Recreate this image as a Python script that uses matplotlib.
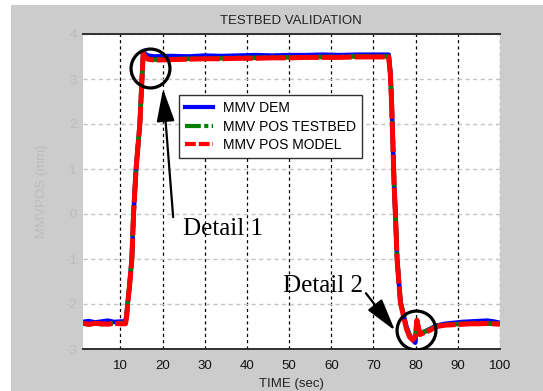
import numpy as np
import matplotlib
matplotlib.use('Agg')
import matplotlib.pyplot as plt
from matplotlib.patches import Rectangle
from matplotlib.lines import Line2D

plt.rcParams['font.family'] = ['Liberation Sans', 'DejaVu Sans']
plt.rcParams['axes.unicode_minus'] = False

# time base shared by the three signals
t_sec = [1, 2.5, 4, 5.5, 7, 8.5, 10,
         11.2, 11.5, 11.7, 12.1, 12.7, 13.1, 13.7, 14.6, 15.1, 15.4, 15.8, 16.5,
         18, 22, 26, 30, 34, 38, 42, 46, 50, 54, 58, 62, 66, 70,
         73.6, 74.0, 74.3, 74.6, 74.9, 75.2, 75.6, 76.4, 77.0, 77.8, 78.6, 79.3, 79.9, 80.3, 81.0,
         82, 83.5, 85, 87, 89, 91, 93, 95, 97, 98.5, 100]

mmv_dem = [-2.40, -2.38, -2.41, -2.39, -2.37, -2.40, -2.39,
           -2.39, -2.20, -2.00, -1.65, -1.00, 0.00, 1.00, 2.00, 3.00, 3.62, 3.56, 3.52,
           3.50, 3.51, 3.50, 3.52, 3.51, 3.52, 3.53, 3.52, 3.53, 3.53, 3.54, 3.53, 3.54, 3.54,
           3.54, 3.15, 2.50, 1.60, 0.60, 0.00, -1.00, -1.95, -2.20, -2.50, -2.70, -2.80, -2.86, -2.40, -2.66,
           -2.62, -2.55, -2.48, -2.44, -2.42, -2.40, -2.39, -2.38, -2.37, -2.39, -2.42]

mmv_pos_testbed = [-2.42, -2.46, -2.42, -2.45, -2.43, -2.44, -2.42,
                   -2.43, -2.22, -1.98, -1.62, -0.98, 0.02, 1.02, 2.02, 3.02, 3.57, 3.51, 3.45,
                   3.43, 3.44, 3.45, 3.45, 3.46, 3.47, 3.47, 3.48, 3.48, 3.48, 3.49, 3.49, 3.50, 3.50,
                   3.50, 3.12, 2.47, 1.58, 0.68, 0.00, -0.98, -1.96, -2.18, -2.52, -2.72, -2.78, -2.74, -2.40, -2.66,
                   -2.62, -2.56, -2.49, -2.46, -2.45, -2.44, -2.43, -2.42, -2.44, -2.43, -2.44]

mmv_pos_model = [-2.43, -2.45, -2.43, -2.44, -2.45, -2.43, -2.44,
                 -2.44, -2.25, -2.00, -1.65, -1.00, 0.00, 1.00, 2.00, 3.00, 3.56, 3.50, 3.44,
                 3.42, 3.43, 3.44, 3.45, 3.45, 3.46, 3.46, 3.47, 3.47, 3.48, 3.48, 3.48, 3.49, 3.49,
                 3.49, 3.10, 2.45, 1.55, 0.65, -0.02, -1.02, -1.98, -2.22, -2.55, -2.74, -2.80, -2.72, -2.36, -2.68,
                 -2.64, -2.58, -2.50, -2.47, -2.46, -2.45, -2.44, -2.44, -2.43, -2.44, -2.45]

series_names = ['MMV DEM', 'MMV POS TESTBED', 'MMV POS MODEL']
x_ticks = [10, 20, 30, 40, 50, 60, 70, 80, 90, 100]
y_ticks = [-3, -2, -1, 0, 1, 2, 3, 4]

fig = plt.figure(figsize=(5.43, 3.91), dpi=100, facecolor='white')
fig.add_artist(Rectangle((11/543, 0), 1, (391-5)/391, transform=fig.transFigure,
                         facecolor='#cccccc', edgecolor='none', zorder=-10))
ax = fig.add_axes([82.5/543, 42/391, 417.5/543, 315/391])
ax.set_facecolor('white')

ax.plot(t_sec, mmv_dem, color='#0000ff', lw=3.3)
ax.plot(t_sec, mmv_pos_testbed, color='#008000', lw=3.3, dashes=(5, 0.8, 1.0, 0.8))
ax.plot(t_sec, mmv_pos_model, color='#ff0000', lw=3.6, dashes=(6, 0.6))

ax.set_xlim(1, 100)
ax.set_ylim(-3, 4)
ax.set_xticks(x_ticks)
ax.set_yticks(y_ticks)
ax.set_axisbelow(True)
ax.grid(axis='x', color='black', linestyle=(0, (2.5, 2.5)), lw=0.9)
ax.grid(axis='y', color='#c4c4c4', linestyle=(0, (3, 2.5)), lw=1.0)
ax.tick_params(axis='x', length=0, pad=8, labelsize=9.5, labelcolor='#111111')
ax.tick_params(axis='y', length=0, pad=4, labelsize=9.5, labelcolor='#bcbcbc')
for side in ['left', 'right']:
    ax.spines[side].set_visible(False)
for side in ['top', 'bottom']:
    ax.spines[side].set_color('#303030')
    ax.spines[side].set_linewidth(1.4)

ax.set_title('TESTBED VALIDATION', fontsize=9.5, color='#222222', pad=7)
ax.set_xlabel('TIME (sec)', fontsize=9.5, color='#222222', labelpad=4)
ax.set_ylabel('MMVPOS (mm)', fontsize=9.5, color='#bcbcbc', labelpad=12)

# legend keys use the short dash patterns
handles = [Line2D([], [], color='#0000ff', lw=3),
           Line2D([], [], color='#008000', lw=3, dashes=(3.8, 0.8, 1.0, 0.8)),
           Line2D([], [], color='#ff0000', lw=3, dashes=(2.6, 0.7))]
leg = ax.legend(handles, series_names, loc='upper left', bbox_to_anchor=(0.231, 0.806),
                borderaxespad=0, fontsize=10, frameon=True, fancybox=False, framealpha=1,
                handlelength=2.0, handletextpad=0.7, borderpad=0.45, labelspacing=0.3)
leg.get_frame().set_edgecolor('#303030')
leg.get_frame().set_linewidth(1.0)

# circled details and their callouts
ax.plot([17.1, 80.0], [3.24, -2.57], 'o', ms=28, mfc='none', mec='black', mew=2.3, zorder=5)
arrow = dict(arrowstyle='-|>,head_length=0.8,head_width=0.22', mutation_scale=25,
             color='black', lw=1.6, shrinkA=0, shrinkB=0)
ax.annotate('', xy=(20.1, 2.78), xytext=(22.5, -0.07), arrowprops=arrow, zorder=6)
ax.annotate('', xy=(75.1, -2.59), xytext=(68.2, -1.76), arrowprops=arrow, zorder=6)
ax.text(24.8, -0.47, 'Detail 1', family='Liberation Serif', fontsize=18, va='baseline', zorder=6)
ax.text(48.5, -1.73, 'Detail 2', family='Liberation Serif', fontsize=18, va='baseline', zorder=6)

plt.savefig('out.png', dpi=100)
